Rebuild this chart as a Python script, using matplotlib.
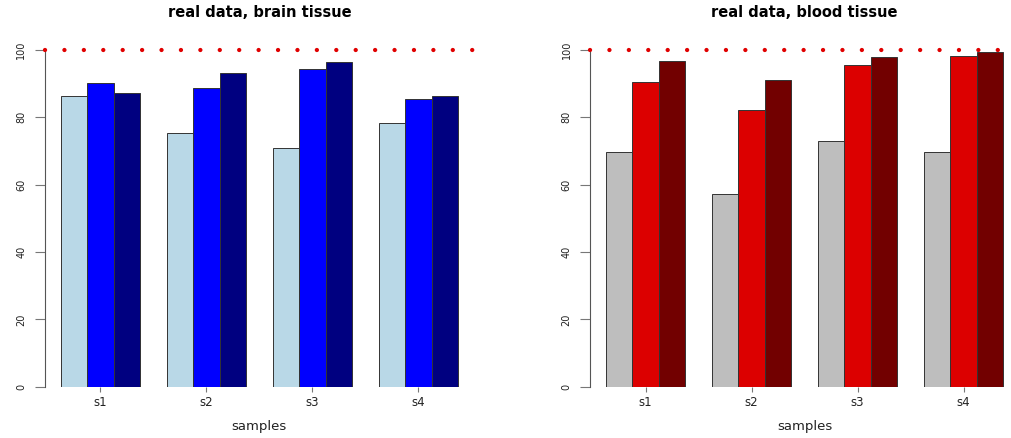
# Importing numpy and matplotlib
import numpy as np
import matplotlib
matplotlib.use('Agg')
import matplotlib.pyplot as plt

# Sample names and percentages per tissue
samples = ['s1', 's2', 's3', 's4']
brain_a = [86.2, 75.2, 71.0, 78.3]
brain_b = [90.3, 88.6, 94.3, 85.4]
brain_c = [87.1, 93.3, 96.4, 86.4]
blood_a = [69.6, 57.1, 73.1, 69.6]
blood_b = [90.4, 82.1, 95.6, 98.2]
blood_c = [96.8, 91.0, 98.0, 99.5]

brain_colors = ['#b9d8e7', '#0000ff', '#000080']
blood_colors = ['#bebebe', '#dc0000', '#720000']

W, H = 1011, 438
fig = plt.figure(figsize=(W / 100, H / 100), dpi=100)

# Axes positions in pixels, like R's plot region
ax_w = 429.3 / W
ax_b = (H - 386.7) / H
ax_h = (386.7 - 36.5) / H
ax1 = fig.add_axes([44.7 / W, ax_b, ax_w, ax_h])
ax2 = fig.add_axes([590.0 / W, ax_b, ax_w, ax_h])


def r_barplot(ax, series, colors, title):
    # R-style grouped barplot: 3 bars per group, 1 unit gap
    n = len(samples)
    for k, (vals, col) in enumerate(zip(series, colors)):
        x = 1 + 4 * np.arange(n) + k
        ax.bar(x, vals, width=1, align='edge', color=col,
               edgecolor='#333333', linewidth=0.7, zorder=2)
    centers = 2.5 + 4 * np.arange(n)

    ax.set_xlim(0.4, 16.6)
    ax.set_ylim(0, 104)

    # Red dotted line at 100%
    ax.axhline(100, color='#e00000', lw=3.1, ls=(0, (0.01, 4.5)),
               dash_capstyle='round', zorder=3, clip_on=False)

    for s in ['top', 'right', 'bottom']:
        ax.spines[s].set_visible(False)
    ax.spines['left'].set_bounds(0, 100)
    ax.spines['left'].set_color('#555555')
    ax.spines['left'].set_linewidth(0.8)

    ax.set_yticks([0, 20, 40, 60, 80, 100])
    ax.set_yticklabels(['0', '20', '40', '60', '80', '100'],
                       rotation=90, va='center', fontsize=7, color='#222222')
    ax.tick_params(axis='y', length=7.2, width=0.8, color='#777777', pad=6)

    ax.set_xticks(centers)
    ax.set_xticklabels(samples, fontsize=8.5, color='#222222')
    ax.tick_params(axis='x', length=3.6, width=0.8, color='#777777', pad=3)

    ax.set_xlabel('samples', fontsize=9.5, color='#222222', labelpad=8)
    ax.set_title(title, fontsize=10.5, fontweight='bold', pad=14)


r_barplot(ax1, [brain_a, brain_b, brain_c], brain_colors, 'real data, brain tissue')
r_barplot(ax2, [blood_a, blood_b, blood_c], blood_colors, 'real data, blood tissue')

# Save the figure
fig.savefig('out.png', dpi=100)
